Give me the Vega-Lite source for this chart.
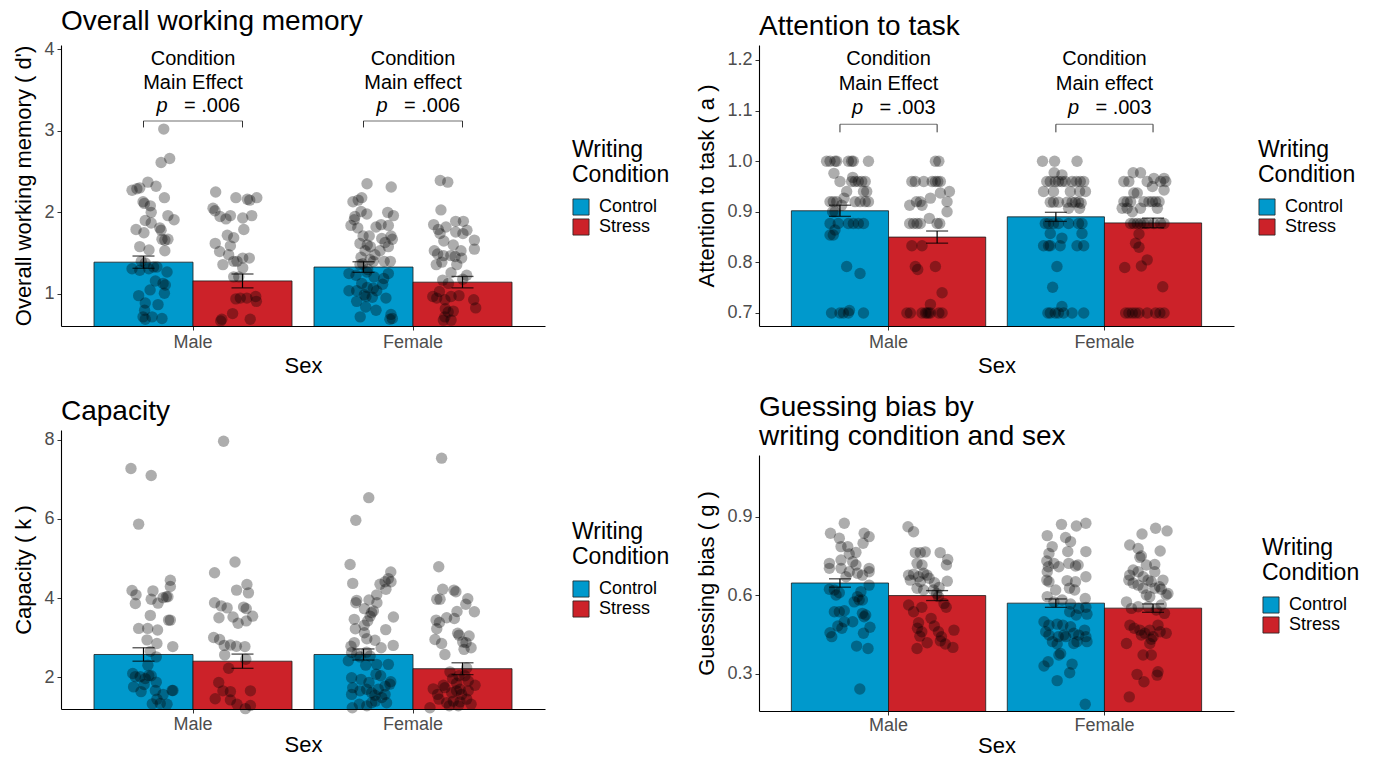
{
"$schema": "https://vega.github.io/schema/vega-lite/v6.json",
"padding": {"left": 12, "top": 8, "right": 5, "bottom": 0},
"config": {
 "font": "Liberation Sans",
 "view": {"stroke": null},
 "axis": {"grid": false, "domainColor": "#000", "domainWidth": 1.1, "tickColor": "#333", "tickSize": 4, "tickWidth": 1, "labelColor": "#4D4D4D", "labelFontSize": 18, "labelFont": "Liberation Sans", "titleFont": "Liberation Sans", "titleFontSize": 22, "titleFontWeight": "normal", "titleColor": "#000", "labelPadding": 3},
 "axisX": {"titlePadding": 4},
 "axisY": {"titlePadding": 8},
 "title": {"fontSize": 28, "fontWeight": "normal", "anchor": "start", "frame": "group", "color": "#000", "font": "Liberation Sans"},
 "legend": {"symbolType": "square", "symbolSize": 260, "symbolStrokeColor": "#222", "symbolStrokeWidth": 0.8, "symbolOpacity": 1, "titleFontSize": 23, "titleFontWeight": "normal", "titleColor": "#000", "titleLineHeight": 25, "labelFontSize": 18, "labelColor": "#000", "rowPadding": 0, "labelOffset": 9, "titlePadding": 11, "titleFont": "Liberation Sans", "labelFont": "Liberation Sans"},
 "text": {"font": "Liberation Sans"}
},
"datasets": {
 "bars1": [
  {"Sex": "Male", "Condition": "Control", "m": 1.39, "lo": 1.315, "hi": 1.465},
  {"Sex": "Male", "Condition": "Stress", "m": 1.16, "lo": 1.075, "hi": 1.245},
  {"Sex": "Female", "Condition": "Control", "m": 1.33, "lo": 1.265, "hi": 1.395},
  {"Sex": "Female", "Condition": "Stress", "m": 1.145, "lo": 1.075, "hi": 1.215}
 ],
 "bars2": [
  {"Sex": "Male", "Condition": "Control", "m": 0.902, "lo": 0.891, "hi": 0.913},
  {"Sex": "Male", "Condition": "Stress", "m": 0.85, "lo": 0.838, "hi": 0.862},
  {"Sex": "Female", "Condition": "Control", "m": 0.89, "lo": 0.881, "hi": 0.899},
  {"Sex": "Female", "Condition": "Stress", "m": 0.878, "lo": 0.8685, "hi": 0.8875}
 ],
 "bars3": [
  {"Sex": "Male", "Condition": "Control", "m": 2.57, "lo": 2.4, "hi": 2.74},
  {"Sex": "Male", "Condition": "Stress", "m": 2.4, "lo": 2.22, "hi": 2.58},
  {"Sex": "Female", "Condition": "Control", "m": 2.57, "lo": 2.43, "hi": 2.71},
  {"Sex": "Female", "Condition": "Stress", "m": 2.21, "lo": 2.06, "hi": 2.36}
 ],
 "bars4": [
  {"Sex": "Male", "Condition": "Control", "m": 0.646, "lo": 0.63, "hi": 0.662},
  {"Sex": "Male", "Condition": "Stress", "m": 0.598, "lo": 0.579, "hi": 0.617},
  {"Sex": "Female", "Condition": "Control", "m": 0.569, "lo": 0.553, "hi": 0.585},
  {"Sex": "Female", "Condition": "Stress", "m": 0.55, "lo": 0.534, "hi": 0.566}
 ],
 "ann1": [
  {"Sex": "Male", "t2": "Main Effect", "pv": "= .006"},
  {"Sex": "Female", "t2": "Main effect", "pv": "= .006"}
 ],
 "ann2": [
  {"Sex": "Male", "t2": "Main Effect", "pv": "= .003"},
  {"Sex": "Female", "t2": "Main effect", "pv": "= .003"}
 ],
 "pts1": [
  {"Sex":"Male","c":"Control","v":3.02,"j":-0.133},{"Sex":"Male","c":"Control","v":2.66,"j":-0.106},{"Sex":"Male","c":"Control","v":2.61,"j":-0.145},{"Sex":"Male","c":"Control","v":2.37,"j":-0.205},{"Sex":"Male","c":"Control","v":2.27,"j":-0.277},{"Sex":"Male","c":"Control","v":2.29,"j":-0.255},{"Sex":"Male","c":"Control","v":2.3,"j":-0.242},{"Sex":"Male","c":"Control","v":2.32,"j":-0.168},{"Sex":"Male","c":"Control","v":2.18,"j":-0.13},{"Sex":"Male","c":"Control","v":2.13,"j":-0.227},{"Sex":"Male","c":"Control","v":2.11,"j":-0.221},{"Sex":"Male","c":"Control","v":2.08,"j":-0.194},{"Sex":"Male","c":"Control","v":2.0,"j":-0.19},{"Sex":"Male","c":"Control","v":1.96,"j":-0.114},{"Sex":"Male","c":"Control","v":1.91,"j":-0.086},{"Sex":"Male","c":"Control","v":1.9,"j":-0.217},{"Sex":"Male","c":"Control","v":1.87,"j":-0.19},{"Sex":"Male","c":"Control","v":1.81,"j":-0.151},{"Sex":"Male","c":"Control","v":1.78,"j":-0.145},{"Sex":"Male","c":"Control","v":1.79,"j":-0.259},{"Sex":"Male","c":"Control","v":1.75,"j":-0.223},{"Sex":"Male","c":"Control","v":1.67,"j":-0.141},{"Sex":"Male","c":"Control","v":1.66,"j":-0.128},{"Sex":"Male","c":"Control","v":1.67,"j":-0.114},{"Sex":"Male","c":"Control","v":1.58,"j":-0.242},{"Sex":"Male","c":"Control","v":1.54,"j":-0.2},{"Sex":"Male","c":"Control","v":1.53,"j":-0.128},{"Sex":"Male","c":"Control","v":1.4,"j":-0.235},{"Sex":"Male","c":"Control","v":1.38,"j":-0.217},{"Sex":"Male","c":"Control","v":1.31,"j":-0.277},{"Sex":"Male","c":"Control","v":1.29,"j":-0.242},{"Sex":"Male","c":"Control","v":1.31,"j":-0.201},{"Sex":"Male","c":"Control","v":1.33,"j":-0.179},{"Sex":"Male","c":"Control","v":1.33,"j":-0.164},{"Sex":"Male","c":"Control","v":1.27,"j":-0.118},{"Sex":"Male","c":"Control","v":1.16,"j":-0.171},{"Sex":"Male","c":"Control","v":1.11,"j":-0.126},{"Sex":"Male","c":"Control","v":1.13,"j":-0.136},{"Sex":"Male","c":"Control","v":1.05,"j":-0.195},{"Sex":"Male","c":"Control","v":1.01,"j":-0.13},{"Sex":"Male","c":"Control","v":0.98,"j":-0.247},{"Sex":"Male","c":"Control","v":0.87,"j":-0.159},{"Sex":"Male","c":"Control","v":0.89,"j":-0.217},{"Sex":"Male","c":"Control","v":0.8,"j":-0.22},{"Sex":"Male","c":"Control","v":0.72,"j":-0.227},{"Sex":"Male","c":"Control","v":0.69,"j":-0.217},{"Sex":"Male","c":"Control","v":0.72,"j":-0.186},{"Sex":"Male","c":"Control","v":0.7,"j":-0.141},
  {"Sex":"Male","c":"Stress","v":2.25,"j":0.103},{"Sex":"Male","c":"Stress","v":2.18,"j":0.195},{"Sex":"Male","c":"Stress","v":2.16,"j":0.247},{"Sex":"Male","c":"Stress","v":2.15,"j":0.258},{"Sex":"Male","c":"Stress","v":2.18,"j":0.29},{"Sex":"Male","c":"Stress","v":2.05,"j":0.091},{"Sex":"Male","c":"Stress","v":2.02,"j":0.1},{"Sex":"Male","c":"Stress","v":1.95,"j":0.123},{"Sex":"Male","c":"Stress","v":1.92,"j":0.15},{"Sex":"Male","c":"Stress","v":1.96,"j":0.17},{"Sex":"Male","c":"Stress","v":1.93,"j":0.226},{"Sex":"Male","c":"Stress","v":1.96,"j":0.267},{"Sex":"Male","c":"Stress","v":1.79,"j":0.231},{"Sex":"Male","c":"Stress","v":1.72,"j":0.156},{"Sex":"Male","c":"Stress","v":1.69,"j":0.185},{"Sex":"Male","c":"Stress","v":1.62,"j":0.101},{"Sex":"Male","c":"Stress","v":1.59,"j":0.17},{"Sex":"Male","c":"Stress","v":1.52,"j":0.121},{"Sex":"Male","c":"Stress","v":1.48,"j":0.162},{"Sex":"Male","c":"Stress","v":1.4,"j":0.185},{"Sex":"Male","c":"Stress","v":1.36,"j":0.136},{"Sex":"Male","c":"Stress","v":1.44,"j":0.226},{"Sex":"Male","c":"Stress","v":1.44,"j":0.256},{"Sex":"Male","c":"Stress","v":1.4,"j":0.2},{"Sex":"Male","c":"Stress","v":1.32,"j":0.226},{"Sex":"Male","c":"Stress","v":1.21,"j":0.185},{"Sex":"Male","c":"Stress","v":1.21,"j":0.208},{"Sex":"Male","c":"Stress","v":0.95,"j":0.215},{"Sex":"Male","c":"Stress","v":0.95,"j":0.245},{"Sex":"Male","c":"Stress","v":0.97,"j":0.285},{"Sex":"Male","c":"Stress","v":0.91,"j":0.288},{"Sex":"Male","c":"Stress","v":0.94,"j":0.195},{"Sex":"Male","c":"Stress","v":0.76,"j":0.18},{"Sex":"Male","c":"Stress","v":0.69,"j":0.26},{"Sex":"Male","c":"Stress","v":0.67,"j":0.126},{"Sex":"Male","c":"Stress","v":0.69,"j":0.131},
  {"Sex":"Female","c":"Control","v":2.35,"j":-0.209},{"Sex":"Female","c":"Control","v":2.31,"j":-0.099},{"Sex":"Female","c":"Control","v":2.13,"j":-0.273},{"Sex":"Female","c":"Control","v":2.18,"j":-0.233},{"Sex":"Female","c":"Control","v":2.15,"j":-0.249},{"Sex":"Female","c":"Control","v":1.95,"j":-0.264},{"Sex":"Female","c":"Control","v":1.91,"j":-0.267},{"Sex":"Female","c":"Control","v":2.01,"j":-0.236},{"Sex":"Female","c":"Control","v":1.98,"j":-0.21},{"Sex":"Female","c":"Control","v":2.0,"j":-0.115},{"Sex":"Female","c":"Control","v":1.96,"j":-0.089},{"Sex":"Female","c":"Control","v":1.84,"j":-0.282},{"Sex":"Female","c":"Control","v":1.81,"j":-0.251},{"Sex":"Female","c":"Control","v":1.82,"j":-0.168},{"Sex":"Female","c":"Control","v":1.85,"j":-0.145},{"Sex":"Female","c":"Control","v":1.84,"j":-0.112},{"Sex":"Female","c":"Control","v":1.71,"j":-0.227},{"Sex":"Female","c":"Control","v":1.71,"j":-0.199},{"Sex":"Female","c":"Control","v":1.68,"j":-0.142},{"Sex":"Female","c":"Control","v":1.71,"j":-0.1},{"Sex":"Female","c":"Control","v":1.67,"j":-0.094},{"Sex":"Female","c":"Control","v":1.63,"j":-0.127},{"Sex":"Female","c":"Control","v":1.62,"j":-0.241},{"Sex":"Female","c":"Control","v":1.6,"j":-0.208},{"Sex":"Female","c":"Control","v":1.58,"j":-0.194},{"Sex":"Female","c":"Control","v":1.53,"j":-0.218},{"Sex":"Female","c":"Control","v":1.53,"j":-0.15},{"Sex":"Female","c":"Control","v":1.58,"j":-0.112},{"Sex":"Female","c":"Control","v":1.48,"j":-0.173},{"Sex":"Female","c":"Control","v":1.4,"j":-0.131},{"Sex":"Female","c":"Control","v":1.4,"j":-0.103},{"Sex":"Female","c":"Control","v":1.45,"j":-0.236},{"Sex":"Female","c":"Control","v":1.42,"j":-0.195},{"Sex":"Female","c":"Control","v":1.4,"j":-0.18},{"Sex":"Female","c":"Control","v":1.36,"j":-0.241},{"Sex":"Female","c":"Control","v":1.37,"j":-0.229},{"Sex":"Female","c":"Control","v":1.3,"j":-0.206},{"Sex":"Female","c":"Control","v":1.25,"j":-0.291},{"Sex":"Female","c":"Control","v":1.23,"j":-0.259},{"Sex":"Female","c":"Control","v":1.27,"j":-0.21},{"Sex":"Female","c":"Control","v":1.25,"j":-0.112},{"Sex":"Female","c":"Control","v":1.21,"j":-0.177},{"Sex":"Female","c":"Control","v":1.19,"j":-0.133},{"Sex":"Female","c":"Control","v":1.13,"j":-0.233},{"Sex":"Female","c":"Control","v":1.12,"j":-0.138},{"Sex":"Female","c":"Control","v":1.07,"j":-0.18},{"Sex":"Female","c":"Control","v":1.08,"j":-0.208},{"Sex":"Female","c":"Control","v":1.04,"j":-0.256},{"Sex":"Female","c":"Control","v":1.04,"j":-0.291},{"Sex":"Female","c":"Control","v":1.04,"j":-0.165},{"Sex":"Female","c":"Control","v":0.99,"j":-0.221},{"Sex":"Female","c":"Control","v":0.97,"j":-0.214},{"Sex":"Female","c":"Control","v":0.96,"j":-0.185},{"Sex":"Female","c":"Control","v":0.95,"j":-0.123},{"Sex":"Female","c":"Control","v":0.91,"j":-0.256},{"Sex":"Female","c":"Control","v":0.84,"j":-0.215},{"Sex":"Female","c":"Control","v":0.8,"j":-0.168},{"Sex":"Female","c":"Control","v":0.72,"j":-0.24},{"Sex":"Female","c":"Control","v":0.75,"j":-0.1},{"Sex":"Female","c":"Control","v":0.7,"j":-0.094},{"Sex":"Female","c":"Control","v":0.69,"j":-0.105},
  {"Sex":"Female","c":"Stress","v":2.39,"j":0.124},{"Sex":"Female","c":"Stress","v":2.37,"j":0.158},{"Sex":"Female","c":"Stress","v":2.03,"j":0.127},{"Sex":"Female","c":"Stress","v":1.85,"j":0.094},{"Sex":"Female","c":"Stress","v":1.89,"j":0.194},{"Sex":"Female","c":"Stress","v":1.89,"j":0.229},{"Sex":"Female","c":"Stress","v":1.79,"j":0.115},{"Sex":"Female","c":"Stress","v":1.74,"j":0.123},{"Sex":"Female","c":"Stress","v":1.82,"j":0.15},{"Sex":"Female","c":"Stress","v":1.76,"j":0.194},{"Sex":"Female","c":"Stress","v":1.74,"j":0.227},{"Sex":"Female","c":"Stress","v":1.78,"j":0.245},{"Sex":"Female","c":"Stress","v":1.66,"j":0.279},{"Sex":"Female","c":"Stress","v":1.55,"j":0.279},{"Sex":"Female","c":"Stress","v":1.65,"j":0.14},{"Sex":"Female","c":"Stress","v":1.6,"j":0.183},{"Sex":"Female","c":"Stress","v":1.53,"j":0.218},{"Sex":"Female","c":"Stress","v":1.53,"j":0.097},{"Sex":"Female","c":"Stress","v":1.49,"j":0.112},{"Sex":"Female","c":"Stress","v":1.47,"j":0.138},{"Sex":"Female","c":"Stress","v":1.47,"j":0.172},{"Sex":"Female","c":"Stress","v":1.46,"j":0.191},{"Sex":"Female","c":"Stress","v":1.44,"j":0.221},{"Sex":"Female","c":"Stress","v":1.36,"j":0.106},{"Sex":"Female","c":"Stress","v":1.39,"j":0.131},{"Sex":"Female","c":"Stress","v":1.36,"j":0.199},{"Sex":"Female","c":"Stress","v":1.26,"j":0.173},{"Sex":"Female","c":"Stress","v":1.23,"j":0.244},{"Sex":"Female","c":"Stress","v":1.18,"j":0.226},{"Sex":"Female","c":"Stress","v":1.17,"j":0.135},{"Sex":"Female","c":"Stress","v":1.13,"j":0.161},{"Sex":"Female","c":"Stress","v":0.97,"j":0.09},{"Sex":"Female","c":"Stress","v":0.95,"j":0.108},{"Sex":"Female","c":"Stress","v":1.03,"j":0.12},{"Sex":"Female","c":"Stress","v":0.93,"j":0.145},{"Sex":"Female","c":"Stress","v":0.97,"j":0.173},{"Sex":"Female","c":"Stress","v":0.98,"j":0.209},{"Sex":"Female","c":"Stress","v":0.93,"j":0.276},{"Sex":"Female","c":"Stress","v":0.83,"j":0.285},{"Sex":"Female","c":"Stress","v":0.82,"j":0.147},{"Sex":"Female","c":"Stress","v":0.78,"j":0.16},{"Sex":"Female","c":"Stress","v":0.79,"j":0.183},{"Sex":"Female","c":"Stress","v":0.72,"j":0.145},{"Sex":"Female","c":"Stress","v":0.68,"j":0.173},{"Sex":"Female","c":"Stress","v":0.68,"j":0.138}
 ],
 "pts2": [
  {"Sex":"Male","c":"Control","v":1.0,"j":-0.287},{"Sex":"Male","c":"Control","v":1.0,"j":-0.271},{"Sex":"Male","c":"Control","v":1.0,"j":-0.248},{"Sex":"Male","c":"Control","v":1.0,"j":-0.24},{"Sex":"Male","c":"Control","v":1.0,"j":-0.186},{"Sex":"Male","c":"Control","v":1.0,"j":-0.171},{"Sex":"Male","c":"Control","v":1.0,"j":-0.163},{"Sex":"Male","c":"Control","v":1.0,"j":-0.093},{"Sex":"Male","c":"Control","v":0.976,"j":-0.253},{"Sex":"Male","c":"Control","v":0.968,"j":-0.166},{"Sex":"Male","c":"Control","v":0.96,"j":-0.225},{"Sex":"Male","c":"Control","v":0.96,"j":-0.171},{"Sex":"Male","c":"Control","v":0.96,"j":-0.155},{"Sex":"Male","c":"Control","v":0.96,"j":-0.14},{"Sex":"Male","c":"Control","v":0.96,"j":-0.124},{"Sex":"Male","c":"Control","v":0.96,"j":-0.108},{"Sex":"Male","c":"Control","v":0.94,"j":-0.194},{"Sex":"Male","c":"Control","v":0.94,"j":-0.116},{"Sex":"Male","c":"Control","v":0.94,"j":-0.101},{"Sex":"Male","c":"Control","v":0.927,"j":-0.206},{"Sex":"Male","c":"Control","v":0.92,"j":-0.271},{"Sex":"Male","c":"Control","v":0.92,"j":-0.256},{"Sex":"Male","c":"Control","v":0.92,"j":-0.24},{"Sex":"Male","c":"Control","v":0.92,"j":-0.155},{"Sex":"Male","c":"Control","v":0.92,"j":-0.132},{"Sex":"Male","c":"Control","v":0.92,"j":-0.108},{"Sex":"Male","c":"Control","v":0.92,"j":-0.093},{"Sex":"Male","c":"Control","v":0.913,"j":-0.217},{"Sex":"Male","c":"Control","v":0.9,"j":-0.259},{"Sex":"Male","c":"Control","v":0.9,"j":-0.248},{"Sex":"Male","c":"Control","v":0.877,"j":-0.271},{"Sex":"Male","c":"Control","v":0.877,"j":-0.233},{"Sex":"Male","c":"Control","v":0.877,"j":-0.186},{"Sex":"Male","c":"Control","v":0.877,"j":-0.163},{"Sex":"Male","c":"Control","v":0.877,"j":-0.14},{"Sex":"Male","c":"Control","v":0.877,"j":-0.116},{"Sex":"Male","c":"Control","v":0.864,"j":-0.248},{"Sex":"Male","c":"Control","v":0.854,"j":-0.271},{"Sex":"Male","c":"Control","v":0.854,"j":-0.256},{"Sex":"Male","c":"Control","v":0.792,"j":-0.194},{"Sex":"Male","c":"Control","v":0.778,"j":-0.132},{"Sex":"Male","c":"Control","v":0.7,"j":-0.264},{"Sex":"Male","c":"Control","v":0.7,"j":-0.225},{"Sex":"Male","c":"Control","v":0.7,"j":-0.209},{"Sex":"Male","c":"Control","v":0.7,"j":-0.186},{"Sex":"Male","c":"Control","v":0.7,"j":-0.116},{"Sex":"Male","c":"Control","v":0.705,"j":-0.181},
  {"Sex":"Male","c":"Stress","v":1.0,"j":0.217},{"Sex":"Male","c":"Stress","v":1.0,"j":0.233},{"Sex":"Male","c":"Stress","v":0.96,"j":0.108},{"Sex":"Male","c":"Stress","v":0.96,"j":0.124},{"Sex":"Male","c":"Stress","v":0.96,"j":0.163},{"Sex":"Male","c":"Stress","v":0.96,"j":0.202},{"Sex":"Male","c":"Stress","v":0.96,"j":0.217},{"Sex":"Male","c":"Stress","v":0.96,"j":0.228},{"Sex":"Male","c":"Stress","v":0.96,"j":0.24},{"Sex":"Male","c":"Stress","v":0.94,"j":0.282},{"Sex":"Male","c":"Stress","v":0.937,"j":0.24},{"Sex":"Male","c":"Stress","v":0.927,"j":0.194},{"Sex":"Male","c":"Stress","v":0.92,"j":0.129},{"Sex":"Male","c":"Stress","v":0.92,"j":0.147},{"Sex":"Male","c":"Stress","v":0.92,"j":0.271},{"Sex":"Male","c":"Stress","v":0.913,"j":0.098},{"Sex":"Male","c":"Stress","v":0.913,"j":0.155},{"Sex":"Male","c":"Stress","v":0.9,"j":0.271},{"Sex":"Male","c":"Stress","v":0.887,"j":0.189},{"Sex":"Male","c":"Stress","v":0.877,"j":0.098},{"Sex":"Male","c":"Stress","v":0.877,"j":0.116},{"Sex":"Male","c":"Stress","v":0.877,"j":0.132},{"Sex":"Male","c":"Stress","v":0.877,"j":0.147},{"Sex":"Male","c":"Stress","v":0.877,"j":0.225},{"Sex":"Male","c":"Stress","v":0.877,"j":0.237},{"Sex":"Male","c":"Stress","v":0.833,"j":0.108},{"Sex":"Male","c":"Stress","v":0.833,"j":0.155},{"Sex":"Male","c":"Stress","v":0.792,"j":0.124},{"Sex":"Male","c":"Stress","v":0.792,"j":0.217},{"Sex":"Male","c":"Stress","v":0.786,"j":0.135},{"Sex":"Male","c":"Stress","v":0.74,"j":0.248},{"Sex":"Male","c":"Stress","v":0.717,"j":0.194},{"Sex":"Male","c":"Stress","v":0.7,"j":0.085},{"Sex":"Male","c":"Stress","v":0.7,"j":0.101},{"Sex":"Male","c":"Stress","v":0.7,"j":0.155},{"Sex":"Male","c":"Stress","v":0.7,"j":0.171},{"Sex":"Male","c":"Stress","v":0.7,"j":0.178},{"Sex":"Male","c":"Stress","v":0.7,"j":0.186},{"Sex":"Male","c":"Stress","v":0.7,"j":0.194},{"Sex":"Male","c":"Stress","v":0.7,"j":0.233},{"Sex":"Male","c":"Stress","v":0.7,"j":0.248},
  {"Sex":"Female","c":"Control","v":1.0,"j":-0.287},{"Sex":"Female","c":"Control","v":1.0,"j":-0.231},{"Sex":"Female","c":"Control","v":1.0,"j":-0.127},{"Sex":"Female","c":"Control","v":0.977,"j":-0.233},{"Sex":"Female","c":"Control","v":0.973,"j":-0.197},{"Sex":"Female","c":"Control","v":0.96,"j":-0.267},{"Sex":"Female","c":"Control","v":0.96,"j":-0.251},{"Sex":"Female","c":"Control","v":0.96,"j":-0.228},{"Sex":"Female","c":"Control","v":0.96,"j":-0.213},{"Sex":"Female","c":"Control","v":0.96,"j":-0.197},{"Sex":"Female","c":"Control","v":0.96,"j":-0.181},{"Sex":"Female","c":"Control","v":0.96,"j":-0.15},{"Sex":"Female","c":"Control","v":0.96,"j":-0.13},{"Sex":"Female","c":"Control","v":0.96,"j":-0.112},{"Sex":"Female","c":"Control","v":0.96,"j":-0.096},{"Sex":"Female","c":"Control","v":0.94,"j":-0.282},{"Sex":"Female","c":"Control","v":0.94,"j":-0.236},{"Sex":"Female","c":"Control","v":0.94,"j":-0.158},{"Sex":"Female","c":"Control","v":0.94,"j":-0.115},{"Sex":"Female","c":"Control","v":0.94,"j":-0.088},{"Sex":"Female","c":"Control","v":0.919,"j":-0.251},{"Sex":"Female","c":"Control","v":0.919,"j":-0.236},{"Sex":"Female","c":"Control","v":0.919,"j":-0.213},{"Sex":"Female","c":"Control","v":0.919,"j":-0.173},{"Sex":"Female","c":"Control","v":0.919,"j":-0.15},{"Sex":"Female","c":"Control","v":0.919,"j":-0.135},{"Sex":"Female","c":"Control","v":0.919,"j":-0.12},{"Sex":"Female","c":"Control","v":0.917,"j":-0.108},{"Sex":"Female","c":"Control","v":0.907,"j":-0.166},{"Sex":"Female","c":"Control","v":0.907,"j":-0.115},{"Sex":"Female","c":"Control","v":0.877,"j":-0.274},{"Sex":"Female","c":"Control","v":0.877,"j":-0.259},{"Sex":"Female","c":"Control","v":0.877,"j":-0.236},{"Sex":"Female","c":"Control","v":0.877,"j":-0.213},{"Sex":"Female","c":"Control","v":0.877,"j":-0.166},{"Sex":"Female","c":"Control","v":0.877,"j":-0.12},{"Sex":"Female","c":"Control","v":0.877,"j":-0.104},{"Sex":"Female","c":"Control","v":0.857,"j":-0.251},{"Sex":"Female","c":"Control","v":0.857,"j":-0.104},{"Sex":"Female","c":"Control","v":0.848,"j":-0.197},{"Sex":"Female","c":"Control","v":0.833,"j":-0.282},{"Sex":"Female","c":"Control","v":0.833,"j":-0.259},{"Sex":"Female","c":"Control","v":0.833,"j":-0.251},{"Sex":"Female","c":"Control","v":0.833,"j":-0.205},{"Sex":"Female","c":"Control","v":0.833,"j":-0.127},{"Sex":"Female","c":"Control","v":0.833,"j":-0.096},{"Sex":"Female","c":"Control","v":0.792,"j":-0.22},{"Sex":"Female","c":"Control","v":0.751,"j":-0.24},{"Sex":"Female","c":"Control","v":0.713,"j":-0.197},{"Sex":"Female","c":"Control","v":0.7,"j":-0.262},{"Sex":"Female","c":"Control","v":0.7,"j":-0.251},{"Sex":"Female","c":"Control","v":0.7,"j":-0.228},{"Sex":"Female","c":"Control","v":0.7,"j":-0.213},{"Sex":"Female","c":"Control","v":0.7,"j":-0.189},{"Sex":"Female","c":"Control","v":0.7,"j":-0.15},{"Sex":"Female","c":"Control","v":0.7,"j":-0.096},
  {"Sex":"Female","c":"Stress","v":0.977,"j":0.133},{"Sex":"Female","c":"Stress","v":0.977,"j":0.167},{"Sex":"Female","c":"Stress","v":0.966,"j":0.229},{"Sex":"Female","c":"Stress","v":0.966,"j":0.276},{"Sex":"Female","c":"Stress","v":0.96,"j":0.09},{"Sex":"Female","c":"Stress","v":0.96,"j":0.113},{"Sex":"Female","c":"Stress","v":0.96,"j":0.198},{"Sex":"Female","c":"Stress","v":0.96,"j":0.26},{"Sex":"Female","c":"Stress","v":0.96,"j":0.284},{"Sex":"Female","c":"Stress","v":0.95,"j":0.222},{"Sex":"Female","c":"Stress","v":0.943,"j":0.276},{"Sex":"Female","c":"Stress","v":0.937,"j":0.136},{"Sex":"Female","c":"Stress","v":0.937,"j":0.152},{"Sex":"Female","c":"Stress","v":0.92,"j":0.09},{"Sex":"Female","c":"Stress","v":0.92,"j":0.105},{"Sex":"Female","c":"Stress","v":0.92,"j":0.121},{"Sex":"Female","c":"Stress","v":0.92,"j":0.183},{"Sex":"Female","c":"Stress","v":0.92,"j":0.206},{"Sex":"Female","c":"Stress","v":0.92,"j":0.222},{"Sex":"Female","c":"Stress","v":0.92,"j":0.237},{"Sex":"Female","c":"Stress","v":0.92,"j":0.253},{"Sex":"Female","c":"Stress","v":0.907,"j":0.082},{"Sex":"Female","c":"Stress","v":0.907,"j":0.105},{"Sex":"Female","c":"Stress","v":0.907,"j":0.167},{"Sex":"Female","c":"Stress","v":0.907,"j":0.245},{"Sex":"Female","c":"Stress","v":0.9,"j":0.129},{"Sex":"Female","c":"Stress","v":0.877,"j":0.121},{"Sex":"Female","c":"Stress","v":0.877,"j":0.136},{"Sex":"Female","c":"Stress","v":0.877,"j":0.152},{"Sex":"Female","c":"Stress","v":0.877,"j":0.167},{"Sex":"Female","c":"Stress","v":0.877,"j":0.183},{"Sex":"Female","c":"Stress","v":0.877,"j":0.198},{"Sex":"Female","c":"Stress","v":0.877,"j":0.229},{"Sex":"Female","c":"Stress","v":0.877,"j":0.26},{"Sex":"Female","c":"Stress","v":0.877,"j":0.276},{"Sex":"Female","c":"Stress","v":0.856,"j":0.16},{"Sex":"Female","c":"Stress","v":0.838,"j":0.144},{"Sex":"Female","c":"Stress","v":0.83,"j":0.16},{"Sex":"Female","c":"Stress","v":0.805,"j":0.198},{"Sex":"Female","c":"Stress","v":0.793,"j":0.171},{"Sex":"Female","c":"Stress","v":0.79,"j":0.094},{"Sex":"Female","c":"Stress","v":0.752,"j":0.27},{"Sex":"Female","c":"Stress","v":0.7,"j":0.098},{"Sex":"Female","c":"Stress","v":0.7,"j":0.113},{"Sex":"Female","c":"Stress","v":0.7,"j":0.129},{"Sex":"Female","c":"Stress","v":0.7,"j":0.144},{"Sex":"Female","c":"Stress","v":0.7,"j":0.16},{"Sex":"Female","c":"Stress","v":0.7,"j":0.198},{"Sex":"Female","c":"Stress","v":0.7,"j":0.237},{"Sex":"Female","c":"Stress","v":0.7,"j":0.257},{"Sex":"Female","c":"Stress","v":0.7,"j":0.276}
 ],
 "pts3": [
  {"Sex":"Male","c":"Control","v":7.28,"j":-0.282},{"Sex":"Male","c":"Control","v":7.1,"j":-0.19},{"Sex":"Male","c":"Control","v":5.87,"j":-0.247},{"Sex":"Male","c":"Control","v":4.45,"j":-0.103},{"Sex":"Male","c":"Control","v":4.29,"j":-0.103},{"Sex":"Male","c":"Control","v":4.19,"j":-0.277},{"Sex":"Male","c":"Control","v":4.08,"j":-0.259},{"Sex":"Male","c":"Control","v":3.86,"j":-0.262},{"Sex":"Male","c":"Control","v":4.18,"j":-0.182},{"Sex":"Male","c":"Control","v":3.97,"j":-0.19},{"Sex":"Male","c":"Control","v":3.87,"j":-0.159},{"Sex":"Male","c":"Control","v":4.01,"j":-0.136},{"Sex":"Male","c":"Control","v":4.03,"j":-0.121},{"Sex":"Male","c":"Control","v":4.03,"j":-0.114},{"Sex":"Male","c":"Control","v":3.56,"j":-0.194},{"Sex":"Male","c":"Control","v":3.44,"j":-0.111},{"Sex":"Male","c":"Control","v":3.44,"j":-0.103},{"Sex":"Male","c":"Control","v":3.23,"j":-0.247},{"Sex":"Male","c":"Control","v":3.23,"j":-0.206},{"Sex":"Male","c":"Control","v":3.19,"j":-0.161},{"Sex":"Male","c":"Control","v":2.94,"j":-0.209},{"Sex":"Male","c":"Control","v":2.85,"j":-0.164},{"Sex":"Male","c":"Control","v":2.77,"j":-0.092},{"Sex":"Male","c":"Control","v":2.65,"j":-0.194},{"Sex":"Male","c":"Control","v":2.51,"j":-0.167},{"Sex":"Male","c":"Control","v":2.3,"j":-0.205},{"Sex":"Male","c":"Control","v":2.09,"j":-0.274},{"Sex":"Male","c":"Control","v":2.01,"j":-0.262},{"Sex":"Male","c":"Control","v":2.01,"j":-0.24},{"Sex":"Male","c":"Control","v":1.96,"j":-0.217},{"Sex":"Male","c":"Control","v":2.04,"j":-0.201},{"Sex":"Male","c":"Control","v":2.03,"j":-0.19},{"Sex":"Male","c":"Control","v":1.87,"j":-0.167},{"Sex":"Male","c":"Control","v":1.75,"j":-0.27},{"Sex":"Male","c":"Control","v":1.63,"j":-0.236},{"Sex":"Male","c":"Control","v":1.81,"j":-0.222},{"Sex":"Male","c":"Control","v":1.66,"j":-0.171},{"Sex":"Male","c":"Control","v":1.56,"j":-0.136},{"Sex":"Male","c":"Control","v":1.66,"j":-0.095},{"Sex":"Male","c":"Control","v":1.66,"j":-0.091},{"Sex":"Male","c":"Control","v":1.32,"j":-0.185},{"Sex":"Male","c":"Control","v":1.44,"j":-0.164},{"Sex":"Male","c":"Control","v":1.31,"j":-0.118},{"Sex":"Male","c":"Control","v":1.33,"j":-0.149},
  {"Sex":"Male","c":"Stress","v":7.97,"j":0.139},{"Sex":"Male","c":"Stress","v":4.91,"j":0.191},{"Sex":"Male","c":"Stress","v":4.64,"j":0.098},{"Sex":"Male","c":"Stress","v":4.34,"j":0.245},{"Sex":"Male","c":"Stress","v":4.13,"j":0.252},{"Sex":"Male","c":"Stress","v":4.2,"j":0.198},{"Sex":"Male","c":"Stress","v":3.88,"j":0.098},{"Sex":"Male","c":"Stress","v":3.8,"j":0.128},{"Sex":"Male","c":"Stress","v":3.75,"j":0.155},{"Sex":"Male","c":"Stress","v":3.77,"j":0.23},{"Sex":"Male","c":"Stress","v":3.73,"j":0.242},{"Sex":"Male","c":"Stress","v":3.5,"j":0.118},{"Sex":"Male","c":"Stress","v":3.52,"j":0.182},{"Sex":"Male","c":"Stress","v":3.36,"j":0.205},{"Sex":"Male","c":"Stress","v":3.42,"j":0.242},{"Sex":"Male","c":"Stress","v":3.54,"j":0.271},{"Sex":"Male","c":"Stress","v":3.0,"j":0.094},{"Sex":"Male","c":"Stress","v":2.95,"j":0.121},{"Sex":"Male","c":"Stress","v":2.8,"j":0.142},{"Sex":"Male","c":"Stress","v":2.81,"j":0.17},{"Sex":"Male","c":"Stress","v":2.78,"j":0.197},{"Sex":"Male","c":"Stress","v":2.77,"j":0.236},{"Sex":"Male","c":"Stress","v":2.56,"j":0.144},{"Sex":"Male","c":"Stress","v":2.45,"j":0.24},{"Sex":"Male","c":"Stress","v":2.22,"j":0.162},{"Sex":"Male","c":"Stress","v":1.86,"j":0.117},{"Sex":"Male","c":"Stress","v":1.65,"j":0.136},{"Sex":"Male","c":"Stress","v":1.63,"j":0.17},{"Sex":"Male","c":"Stress","v":1.65,"j":0.261},{"Sex":"Male","c":"Stress","v":1.45,"j":0.101},{"Sex":"Male","c":"Stress","v":1.42,"j":0.17},{"Sex":"Male","c":"Stress","v":1.31,"j":0.2},{"Sex":"Male","c":"Stress","v":1.28,"j":0.261},{"Sex":"Male","c":"Stress","v":1.2,"j":0.238},
  {"Sex":"Female","c":"Control","v":6.54,"j":-0.201},{"Sex":"Female","c":"Control","v":5.97,"j":-0.26},{"Sex":"Female","c":"Control","v":4.85,"j":-0.286},{"Sex":"Female","c":"Control","v":4.37,"j":-0.274},{"Sex":"Female","c":"Control","v":4.66,"j":-0.101},{"Sex":"Female","c":"Control","v":4.49,"j":-0.112},{"Sex":"Female","c":"Control","v":4.41,"j":-0.127},{"Sex":"Female","c":"Control","v":4.41,"j":-0.1},{"Sex":"Female","c":"Control","v":4.22,"j":-0.123},{"Sex":"Female","c":"Control","v":4.35,"j":-0.15},{"Sex":"Female","c":"Control","v":3.94,"j":-0.256},{"Sex":"Female","c":"Control","v":3.88,"j":-0.26},{"Sex":"Female","c":"Control","v":3.95,"j":-0.2},{"Sex":"Female","c":"Control","v":4.08,"j":-0.165},{"Sex":"Female","c":"Control","v":3.88,"j":-0.164},{"Sex":"Female","c":"Control","v":3.73,"j":-0.221},{"Sex":"Female","c":"Control","v":3.63,"j":-0.188},{"Sex":"Female","c":"Control","v":3.67,"j":-0.18},{"Sex":"Female","c":"Control","v":3.52,"j":-0.089},{"Sex":"Female","c":"Control","v":3.46,"j":-0.267},{"Sex":"Female","c":"Control","v":3.42,"j":-0.206},{"Sex":"Female","c":"Control","v":3.31,"j":-0.222},{"Sex":"Female","c":"Control","v":3.22,"j":-0.262},{"Sex":"Female","c":"Control","v":3.54,"j":-0.195},{"Sex":"Female","c":"Control","v":3.12,"j":-0.221},{"Sex":"Female","c":"Control","v":2.97,"j":-0.21},{"Sex":"Female","c":"Control","v":3.2,"j":-0.124},{"Sex":"Female","c":"Control","v":2.87,"j":-0.267},{"Sex":"Female","c":"Control","v":2.93,"j":-0.173},{"Sex":"Female","c":"Control","v":2.74,"j":-0.145},{"Sex":"Female","c":"Control","v":2.8,"j":-0.09},{"Sex":"Female","c":"Control","v":2.78,"j":-0.282},{"Sex":"Female","c":"Control","v":2.62,"j":-0.279},{"Sex":"Female","c":"Control","v":2.57,"j":-0.256},{"Sex":"Female","c":"Control","v":2.63,"j":-0.211},{"Sex":"Female","c":"Control","v":2.51,"j":-0.241},{"Sex":"Female","c":"Control","v":2.53,"j":-0.195},{"Sex":"Female","c":"Control","v":2.41,"j":-0.294},{"Sex":"Female","c":"Control","v":2.3,"j":-0.215},{"Sex":"Female","c":"Control","v":2.32,"j":-0.165},{"Sex":"Female","c":"Control","v":2.32,"j":-0.112},{"Sex":"Female","c":"Control","v":1.98,"j":-0.279},{"Sex":"Female","c":"Control","v":1.94,"j":-0.236},{"Sex":"Female","c":"Control","v":1.86,"j":-0.2},{"Sex":"Female","c":"Control","v":2.07,"j":-0.168},{"Sex":"Female","c":"Control","v":2.03,"j":-0.147},{"Sex":"Female","c":"Control","v":1.88,"j":-0.101},{"Sex":"Female","c":"Control","v":1.82,"j":-0.105},{"Sex":"Female","c":"Control","v":1.73,"j":-0.274},{"Sex":"Female","c":"Control","v":1.65,"j":-0.241},{"Sex":"Female","c":"Control","v":1.69,"j":-0.211},{"Sex":"Female","c":"Control","v":1.6,"j":-0.188},{"Sex":"Female","c":"Control","v":1.69,"j":-0.158},{"Sex":"Female","c":"Control","v":1.77,"j":-0.127},{"Sex":"Female","c":"Control","v":1.56,"j":-0.127},{"Sex":"Female","c":"Control","v":1.56,"j":-0.279},{"Sex":"Female","c":"Control","v":1.54,"j":-0.173},{"Sex":"Female","c":"Control","v":1.48,"j":-0.142},{"Sex":"Female","c":"Control","v":1.39,"j":-0.17},{"Sex":"Female","c":"Control","v":1.35,"j":-0.188},{"Sex":"Female","c":"Control","v":1.35,"j":-0.12},{"Sex":"Female","c":"Control","v":1.31,"j":-0.244},{"Sex":"Female","c":"Control","v":1.27,"j":-0.21},{"Sex":"Female","c":"Control","v":1.22,"j":-0.276},
  {"Sex":"Female","c":"Stress","v":7.54,"j":0.13},{"Sex":"Female","c":"Stress","v":4.79,"j":0.117},{"Sex":"Female","c":"Stress","v":4.22,"j":0.135},{"Sex":"Female","c":"Stress","v":4.2,"j":0.186},{"Sex":"Female","c":"Stress","v":4.16,"j":0.195},{"Sex":"Female","c":"Stress","v":3.97,"j":0.108},{"Sex":"Female","c":"Stress","v":3.97,"j":0.123},{"Sex":"Female","c":"Stress","v":3.98,"j":0.249},{"Sex":"Female","c":"Stress","v":3.84,"j":0.24},{"Sex":"Female","c":"Stress","v":3.65,"j":0.279},{"Sex":"Female","c":"Stress","v":3.66,"j":0.2},{"Sex":"Female","c":"Stress","v":3.5,"j":0.153},{"Sex":"Female","c":"Stress","v":3.48,"j":0.188},{"Sex":"Female","c":"Stress","v":3.44,"j":0.105},{"Sex":"Female","c":"Stress","v":3.38,"j":0.12},{"Sex":"Female","c":"Stress","v":3.22,"j":0.108},{"Sex":"Female","c":"Stress","v":3.11,"j":0.203},{"Sex":"Female","c":"Stress","v":3.06,"j":0.209},{"Sex":"Female","c":"Stress","v":3.04,"j":0.255},{"Sex":"Female","c":"Stress","v":2.95,"j":0.1},{"Sex":"Female","c":"Stress","v":2.85,"j":0.13},{"Sex":"Female","c":"Stress","v":2.89,"j":0.226},{"Sex":"Female","c":"Stress","v":2.74,"j":0.264},{"Sex":"Female","c":"Stress","v":2.87,"j":0.241},{"Sex":"Female","c":"Stress","v":2.7,"j":0.232},{"Sex":"Female","c":"Stress","v":2.57,"j":0.145},{"Sex":"Female","c":"Stress","v":2.23,"j":0.244},{"Sex":"Female","c":"Stress","v":2.03,"j":0.236},{"Sex":"Female","c":"Stress","v":2.13,"j":0.168},{"Sex":"Female","c":"Stress","v":1.96,"j":0.18},{"Sex":"Female","c":"Stress","v":1.84,"j":0.198},{"Sex":"Female","c":"Stress","v":1.79,"j":0.138},{"Sex":"Female","c":"Stress","v":2.03,"j":0.209},{"Sex":"Female","c":"Stress","v":1.9,"j":0.251},{"Sex":"Female","c":"Stress","v":1.7,"j":0.092},{"Sex":"Female","c":"Stress","v":1.56,"j":0.112},{"Sex":"Female","c":"Stress","v":1.73,"j":0.145},{"Sex":"Female","c":"Stress","v":1.6,"j":0.176},{"Sex":"Female","c":"Stress","v":1.65,"j":0.198},{"Sex":"Female","c":"Stress","v":1.69,"j":0.214},{"Sex":"Female","c":"Stress","v":1.56,"j":0.221},{"Sex":"Female","c":"Stress","v":1.65,"j":0.251},{"Sex":"Female","c":"Stress","v":1.79,"j":0.282},{"Sex":"Female","c":"Stress","v":1.44,"j":0.118},{"Sex":"Female","c":"Stress","v":1.35,"j":0.153},{"Sex":"Female","c":"Stress","v":1.39,"j":0.183},{"Sex":"Female","c":"Stress","v":1.37,"j":0.214},{"Sex":"Female","c":"Stress","v":1.44,"j":0.244},{"Sex":"Female","c":"Stress","v":1.31,"j":0.264},{"Sex":"Female","c":"Stress","v":1.27,"j":0.165},{"Sex":"Female","c":"Stress","v":1.27,"j":0.206},{"Sex":"Female","c":"Stress","v":1.22,"j":0.077}
 ],
 "pts4": [
  {"Sex":"Male","c":"Control","v":0.874,"j":-0.205},{"Sex":"Male","c":"Control","v":0.836,"j":-0.269},{"Sex":"Male","c":"Control","v":0.817,"j":-0.228},{"Sex":"Male","c":"Control","v":0.836,"j":-0.113},{"Sex":"Male","c":"Control","v":0.823,"j":-0.09},{"Sex":"Male","c":"Control","v":0.798,"j":-0.118},{"Sex":"Male","c":"Control","v":0.785,"j":-0.22},{"Sex":"Male","c":"Control","v":0.785,"j":-0.189},{"Sex":"Male","c":"Control","v":0.757,"j":-0.182},{"Sex":"Male","c":"Control","v":0.763,"j":-0.151},{"Sex":"Male","c":"Control","v":0.734,"j":-0.22},{"Sex":"Male","c":"Control","v":0.727,"j":-0.166},{"Sex":"Male","c":"Control","v":0.715,"j":-0.151},{"Sex":"Male","c":"Control","v":0.721,"j":-0.274},{"Sex":"Male","c":"Control","v":0.702,"j":-0.274},{"Sex":"Male","c":"Control","v":0.702,"j":-0.09},{"Sex":"Male","c":"Control","v":0.689,"j":-0.09},{"Sex":"Male","c":"Control","v":0.702,"j":-0.22},{"Sex":"Male","c":"Control","v":0.689,"j":-0.182},{"Sex":"Male","c":"Control","v":0.683,"j":-0.144},{"Sex":"Male","c":"Control","v":0.676,"j":-0.121},{"Sex":"Male","c":"Control","v":0.67,"j":-0.197},{"Sex":"Male","c":"Control","v":0.622,"j":-0.274},{"Sex":"Male","c":"Control","v":0.619,"j":-0.251},{"Sex":"Male","c":"Control","v":0.609,"j":-0.228},{"Sex":"Male","c":"Control","v":0.6,"j":-0.243},{"Sex":"Male","c":"Control","v":0.638,"j":-0.09},{"Sex":"Male","c":"Control","v":0.613,"j":-0.128},{"Sex":"Male","c":"Control","v":0.594,"j":-0.144},{"Sex":"Male","c":"Control","v":0.581,"j":-0.136},{"Sex":"Male","c":"Control","v":0.574,"j":-0.159},{"Sex":"Male","c":"Control","v":0.581,"j":-0.121},{"Sex":"Male","c":"Control","v":0.536,"j":-0.251},{"Sex":"Male","c":"Control","v":0.536,"j":-0.228},{"Sex":"Male","c":"Control","v":0.54,"j":-0.205},{"Sex":"Male","c":"Control","v":0.53,"j":-0.121},{"Sex":"Male","c":"Control","v":0.517,"j":-0.113},{"Sex":"Male","c":"Control","v":0.524,"j":-0.106},{"Sex":"Male","c":"Control","v":0.498,"j":-0.166},{"Sex":"Male","c":"Control","v":0.498,"j":-0.205},{"Sex":"Male","c":"Control","v":0.482,"j":-0.235},{"Sex":"Male","c":"Control","v":0.473,"j":-0.216},{"Sex":"Male","c":"Control","v":0.477,"j":-0.086},{"Sex":"Male","c":"Control","v":0.456,"j":-0.271},{"Sex":"Male","c":"Control","v":0.441,"j":-0.263},{"Sex":"Male","c":"Control","v":0.454,"j":-0.116},{"Sex":"Male","c":"Control","v":0.405,"j":-0.148},{"Sex":"Male","c":"Control","v":0.396,"j":-0.095},{"Sex":"Male","c":"Control","v":0.241,"j":-0.133},
  {"Sex":"Male","c":"Stress","v":0.861,"j":0.09},{"Sex":"Male","c":"Stress","v":0.842,"j":0.116},{"Sex":"Male","c":"Stress","v":0.762,"j":0.124},{"Sex":"Male","c":"Stress","v":0.762,"j":0.147},{"Sex":"Male","c":"Stress","v":0.765,"j":0.17},{"Sex":"Male","c":"Stress","v":0.762,"j":0.239},{"Sex":"Male","c":"Stress","v":0.736,"j":0.274},{"Sex":"Male","c":"Stress","v":0.715,"j":0.268},{"Sex":"Male","c":"Stress","v":0.721,"j":0.132},{"Sex":"Male","c":"Stress","v":0.715,"j":0.155},{"Sex":"Male","c":"Stress","v":0.676,"j":0.093},{"Sex":"Male","c":"Stress","v":0.68,"j":0.116},{"Sex":"Male","c":"Stress","v":0.67,"j":0.139},{"Sex":"Male","c":"Stress","v":0.683,"j":0.162},{"Sex":"Male","c":"Stress","v":0.676,"j":0.178},{"Sex":"Male","c":"Stress","v":0.664,"j":0.188},{"Sex":"Male","c":"Stress","v":0.647,"j":0.213},{"Sex":"Male","c":"Stress","v":0.629,"j":0.234},{"Sex":"Male","c":"Stress","v":0.653,"j":0.272},{"Sex":"Male","c":"Stress","v":0.657,"j":0.101},{"Sex":"Male","c":"Stress","v":0.626,"j":0.132},{"Sex":"Male","c":"Stress","v":0.651,"j":0.147},{"Sex":"Male","c":"Stress","v":0.619,"j":0.162},{"Sex":"Male","c":"Stress","v":0.619,"j":0.208},{"Sex":"Male","c":"Stress","v":0.606,"j":0.223},{"Sex":"Male","c":"Stress","v":0.594,"j":0.231},{"Sex":"Male","c":"Stress","v":0.562,"j":0.093},{"Sex":"Male","c":"Stress","v":0.536,"j":0.116},{"Sex":"Male","c":"Stress","v":0.553,"j":0.154},{"Sex":"Male","c":"Stress","v":0.553,"j":0.267},{"Sex":"Male","c":"Stress","v":0.568,"j":0.257},{"Sex":"Male","c":"Stress","v":0.494,"j":0.139},{"Sex":"Male","c":"Stress","v":0.511,"j":0.197},{"Sex":"Male","c":"Stress","v":0.482,"j":0.212},{"Sex":"Male","c":"Stress","v":0.473,"j":0.134},{"Sex":"Male","c":"Stress","v":0.46,"j":0.154},{"Sex":"Male","c":"Stress","v":0.443,"j":0.145},{"Sex":"Male","c":"Stress","v":0.46,"j":0.231},{"Sex":"Male","c":"Stress","v":0.441,"j":0.245},{"Sex":"Male","c":"Stress","v":0.466,"j":0.303},{"Sex":"Male","c":"Stress","v":0.418,"j":0.179},{"Sex":"Male","c":"Stress","v":0.425,"j":0.24},{"Sex":"Male","c":"Stress","v":0.413,"j":0.263},{"Sex":"Male","c":"Stress","v":0.4,"j":0.298},{"Sex":"Male","c":"Stress","v":0.396,"j":0.132},
  {"Sex":"Female","c":"Control","v":0.87,"j":-0.199},{"Sex":"Female","c":"Control","v":0.864,"j":-0.13},{"Sex":"Female","c":"Control","v":0.874,"j":-0.086},{"Sex":"Female","c":"Control","v":0.827,"j":-0.265},{"Sex":"Female","c":"Control","v":0.82,"j":-0.18},{"Sex":"Female","c":"Control","v":0.804,"j":-0.157},{"Sex":"Female","c":"Control","v":0.785,"j":-0.242},{"Sex":"Female","c":"Control","v":0.766,"j":-0.17},{"Sex":"Female","c":"Control","v":0.766,"j":-0.086},{"Sex":"Female","c":"Control","v":0.759,"j":-0.257},{"Sex":"Female","c":"Control","v":0.73,"j":-0.267},{"Sex":"Female","c":"Control","v":0.721,"j":-0.234},{"Sex":"Female","c":"Control","v":0.708,"j":-0.211},{"Sex":"Female","c":"Control","v":0.721,"j":-0.165},{"Sex":"Female","c":"Control","v":0.711,"j":-0.134},{"Sex":"Female","c":"Control","v":0.715,"j":-0.122},{"Sex":"Female","c":"Control","v":0.708,"j":-0.26},{"Sex":"Female","c":"Control","v":0.689,"j":-0.265},{"Sex":"Female","c":"Control","v":0.657,"j":-0.267},{"Sex":"Female","c":"Control","v":0.651,"j":-0.257},{"Sex":"Female","c":"Control","v":0.67,"j":-0.086},{"Sex":"Female","c":"Control","v":0.655,"j":-0.173},{"Sex":"Female","c":"Control","v":0.651,"j":-0.134},{"Sex":"Female","c":"Control","v":0.626,"j":-0.162},{"Sex":"Female","c":"Control","v":0.619,"j":-0.138},{"Sex":"Female","c":"Control","v":0.619,"j":-0.226},{"Sex":"Female","c":"Control","v":0.587,"j":-0.089},{"Sex":"Female","c":"Control","v":0.594,"j":-0.265},{"Sex":"Female","c":"Control","v":0.574,"j":-0.234},{"Sex":"Female","c":"Control","v":0.581,"j":-0.196},{"Sex":"Female","c":"Control","v":0.566,"j":-0.157},{"Sex":"Female","c":"Control","v":0.549,"j":-0.119},{"Sex":"Female","c":"Control","v":0.553,"j":-0.086},{"Sex":"Female","c":"Control","v":0.527,"j":-0.081},{"Sex":"Female","c":"Control","v":0.524,"j":-0.131},{"Sex":"Female","c":"Control","v":0.536,"j":-0.161},{"Sex":"Female","c":"Control","v":0.498,"j":-0.28},{"Sex":"Female","c":"Control","v":0.485,"j":-0.257},{"Sex":"Female","c":"Control","v":0.489,"j":-0.219},{"Sex":"Female","c":"Control","v":0.485,"j":-0.193},{"Sex":"Female","c":"Control","v":0.479,"j":-0.157},{"Sex":"Female","c":"Control","v":0.46,"j":-0.272},{"Sex":"Female","c":"Control","v":0.447,"j":-0.257},{"Sex":"Female","c":"Control","v":0.441,"j":-0.214},{"Sex":"Female","c":"Control","v":0.447,"j":-0.188},{"Sex":"Female","c":"Control","v":0.441,"j":-0.18},{"Sex":"Female","c":"Control","v":0.454,"j":-0.142},{"Sex":"Female","c":"Control","v":0.447,"j":-0.119},{"Sex":"Female","c":"Control","v":0.466,"j":-0.092},{"Sex":"Female","c":"Control","v":0.441,"j":-0.086},{"Sex":"Female","c":"Control","v":0.415,"j":-0.142},{"Sex":"Female","c":"Control","v":0.422,"j":-0.127},{"Sex":"Female","c":"Control","v":0.422,"j":-0.081},{"Sex":"Female","c":"Control","v":0.422,"j":-0.241},{"Sex":"Female","c":"Control","v":0.413,"j":-0.219},{"Sex":"Female","c":"Control","v":0.377,"j":-0.203},{"Sex":"Female","c":"Control","v":0.371,"j":-0.211},{"Sex":"Female","c":"Control","v":0.345,"j":-0.261},{"Sex":"Female","c":"Control","v":0.329,"j":-0.28},{"Sex":"Female","c":"Control","v":0.336,"j":-0.15},{"Sex":"Female","c":"Control","v":0.303,"j":-0.161},{"Sex":"Female","c":"Control","v":0.273,"j":-0.219},{"Sex":"Female","c":"Control","v":0.183,"j":-0.089},
  {"Sex":"Female","c":"Stress","v":0.855,"j":0.237},{"Sex":"Female","c":"Stress","v":0.845,"j":0.29},{"Sex":"Female","c":"Stress","v":0.833,"j":0.174},{"Sex":"Female","c":"Stress","v":0.791,"j":0.117},{"Sex":"Female","c":"Stress","v":0.778,"j":0.156},{"Sex":"Female","c":"Stress","v":0.768,"j":0.258},{"Sex":"Female","c":"Stress","v":0.744,"j":0.164},{"Sex":"Female","c":"Stress","v":0.749,"j":0.171},{"Sex":"Female","c":"Stress","v":0.715,"j":0.194},{"Sex":"Female","c":"Stress","v":0.717,"j":0.233},{"Sex":"Female","c":"Stress","v":0.657,"j":0.271},{"Sex":"Female","c":"Stress","v":0.606,"j":0.294},{"Sex":"Female","c":"Stress","v":0.689,"j":0.233},{"Sex":"Female","c":"Stress","v":0.696,"j":0.133},{"Sex":"Female","c":"Stress","v":0.676,"j":0.117},{"Sex":"Female","c":"Stress","v":0.689,"j":0.156},{"Sex":"Female","c":"Stress","v":0.67,"j":0.179},{"Sex":"Female","c":"Stress","v":0.657,"j":0.202},{"Sex":"Female","c":"Stress","v":0.651,"j":0.217},{"Sex":"Female","c":"Stress","v":0.626,"j":0.233},{"Sex":"Female","c":"Stress","v":0.632,"j":0.255},{"Sex":"Female","c":"Stress","v":0.622,"j":0.263},{"Sex":"Female","c":"Stress","v":0.6,"j":0.286},{"Sex":"Female","c":"Stress","v":0.657,"j":0.113},{"Sex":"Female","c":"Stress","v":0.645,"j":0.133},{"Sex":"Female","c":"Stress","v":0.638,"j":0.156},{"Sex":"Female","c":"Stress","v":0.626,"j":0.179},{"Sex":"Female","c":"Stress","v":0.6,"j":0.194},{"Sex":"Female","c":"Stress","v":0.594,"j":0.21},{"Sex":"Female","c":"Stress","v":0.574,"j":0.102},{"Sex":"Female","c":"Stress","v":0.549,"j":0.125},{"Sex":"Female","c":"Stress","v":0.555,"j":0.156},{"Sex":"Female","c":"Stress","v":0.555,"j":0.202},{"Sex":"Female","c":"Stress","v":0.543,"j":0.24},{"Sex":"Female","c":"Stress","v":0.562,"j":0.263},{"Sex":"Female","c":"Stress","v":0.53,"j":0.278},{"Sex":"Female","c":"Stress","v":0.485,"j":0.118},{"Sex":"Female","c":"Stress","v":0.473,"j":0.138},{"Sex":"Female","c":"Stress","v":0.466,"j":0.164},{"Sex":"Female","c":"Stress","v":0.454,"j":0.187},{"Sex":"Female","c":"Stress","v":0.466,"j":0.21},{"Sex":"Female","c":"Stress","v":0.441,"j":0.225},{"Sex":"Female","c":"Stress","v":0.485,"j":0.248},{"Sex":"Female","c":"Stress","v":0.46,"j":0.258},{"Sex":"Female","c":"Stress","v":0.454,"j":0.286},{"Sex":"Female","c":"Stress","v":0.415,"j":0.102},{"Sex":"Female","c":"Stress","v":0.447,"j":0.171},{"Sex":"Female","c":"Stress","v":0.415,"j":0.21},{"Sex":"Female","c":"Stress","v":0.431,"j":0.217},{"Sex":"Female","c":"Stress","v":0.371,"j":0.179},{"Sex":"Female","c":"Stress","v":0.371,"j":0.217},{"Sex":"Female","c":"Stress","v":0.297,"j":0.151},{"Sex":"Female","c":"Stress","v":0.269,"j":0.183},{"Sex":"Female","c":"Stress","v":0.294,"j":0.244},{"Sex":"Female","c":"Stress","v":0.211,"j":0.115},{"Sex":"Female","c":"Stress","v":0.307,"j":0.248}
 ]
},
"bounds": "flush",
"spacing": 698,
"resolve": {"scale": {"x": "independent", "y": "independent", "xOffset": "independent", "color": "independent"}, "legend": {"color": "independent"}},
"hconcat": [
 {"vconcat": [
  {"width": 484, "height": 281,
   "title": {"text": "Overall working memory", "offset": 4},
   "resolve": {"scale": {"xOffset": "independent"}},
   "layer": [
    {"data": {"name": "bars1"}, "mark": {"type": "bar", "stroke": "#1a1a1a", "strokeWidth": 0.8, "clip": true},
     "encoding": {
      "x": {"field": "Sex", "type": "nominal", "sort": ["Male", "Female"], "scale": {"paddingInner": 0.1, "paddingOuter": 0.15}, "axis": {"title": "Sex", "labelAngle": 0}},
      "xOffset": {"field": "Condition", "type": "nominal", "sort": ["Control", "Stress"], "scale": {"paddingInner": 0, "paddingOuter": 0}},
      "y": {"field": "m", "type": "quantitative", "scale": {"domain": [0.608, 4.05], "nice": false, "zero": false}, "axis": {"title": "Overall working memory ( d')", "values": [1, 2, 3, 4], "format": "d"}},
      "color": {"field": "Condition", "type": "nominal", "scale": {"domain": ["Control", "Stress"], "range": ["#0099CC", "#CC2229"]}, "legend": {"title": ["Writing", "Condition"], "orient": "none", "legendX": 511, "legendY": 94}}
     }},
    {"data": {"name": "pts1"}, "mark": {"type": "point", "filled": true, "color": "#000", "opacity": 0.32, "size": 130, "strokeWidth": 0},
     "encoding": {"x": {"field": "Sex", "type": "nominal", "sort": ["Male", "Female"]}, "xOffset": {"field": "j", "type": "quantitative", "scale": {"domain": [-0.45, 0.45]}}, "y": {"field": "v", "type": "quantitative"}}},
    {"data": {"name": "bars1"}, "mark": {"type": "rule", "color": "#000", "strokeWidth": 1.2},
     "encoding": {"x": {"field": "Sex", "type": "nominal", "sort": ["Male", "Female"]}, "xOffset": {"field": "Condition", "type": "nominal", "sort": ["Control", "Stress"]}, "y": {"field": "lo", "type": "quantitative"}, "y2": {"field": "hi"}}},
    {"data": {"name": "bars1"}, "mark": {"type": "tick", "color": "#000", "thickness": 1.3, "size": 22, "orient": "horizontal"},
     "encoding": {"x": {"field": "Sex", "type": "nominal", "sort": ["Male", "Female"]}, "xOffset": {"field": "Condition", "type": "nominal", "sort": ["Control", "Stress"]}, "y": {"field": "lo", "type": "quantitative"}}},
    {"data": {"name": "bars1"}, "mark": {"type": "tick", "color": "#000", "thickness": 1.3, "size": 22, "orient": "horizontal"},
     "encoding": {"x": {"field": "Sex", "type": "nominal", "sort": ["Male", "Female"]}, "xOffset": {"field": "Condition", "type": "nominal", "sort": ["Control", "Stress"]}, "y": {"field": "hi", "type": "quantitative"}}},
    {"data": {"name": "bars1"}, "mark": {"type": "rule", "color": "#333", "strokeWidth": 1},
     "encoding": {"x": {"field": "Sex", "type": "nominal", "sort": ["Male", "Female"]}, "xOffset": {"field": "Condition", "type": "nominal", "sort": ["Control", "Stress"]}, "y": {"datum": 3.04}, "y2": {"datum": 3.12}}},
    {"data": {"name": "ann1"}, "mark": {"type": "tick", "color": "#333", "thickness": 1, "size": 99, "orient": "horizontal"},
     "encoding": {"x": {"field": "Sex", "type": "nominal", "sort": ["Male", "Female"]}, "y": {"datum": 3.12}}},
    {"data": {"name": "ann1"}, "mark": {"type": "text", "text": "Condition", "fontSize": 20, "color": "#000", "baseline": "middle"},
     "encoding": {"x": {"field": "Sex", "type": "nominal", "sort": ["Male", "Female"]}, "y": {"datum": 3.88}}},
    {"data": {"name": "ann1"}, "mark": {"type": "text", "fontSize": 20, "color": "#000", "baseline": "middle"},
     "encoding": {"x": {"field": "Sex", "type": "nominal", "sort": ["Male", "Female"]}, "y": {"datum": 3.59}, "text": {"field": "t2"}}},
    {"data": {"name": "ann1"}, "mark": {"type": "text", "text": "p", "fontStyle": "italic", "fontSize": 20, "color": "#000", "baseline": "middle", "dx": -31},
     "encoding": {"x": {"field": "Sex", "type": "nominal", "sort": ["Male", "Female"]}, "y": {"datum": 3.3}}},
    {"data": {"name": "ann1"}, "mark": {"type": "text", "fontSize": 20, "color": "#000", "baseline": "middle", "align": "left", "dx": -9},
     "encoding": {"x": {"field": "Sex", "type": "nominal", "sort": ["Male", "Female"]}, "y": {"datum": 3.3}, "text": {"field": "pv"}}}
   ]},
  {"width": 484, "height": 279,
   "title": {"text": "Capacity", "offset": 4},
   "resolve": {"scale": {"xOffset": "independent"}},
   "layer": [
    {"data": {"name": "bars3"}, "mark": {"type": "bar", "stroke": "#1a1a1a", "strokeWidth": 0.8, "clip": true},
     "encoding": {
      "x": {"field": "Sex", "type": "nominal", "sort": ["Male", "Female"], "scale": {"paddingInner": 0.1, "paddingOuter": 0.15}, "axis": {"title": "Sex", "labelAngle": 0, "labelPadding": 2, "titlePadding": 1}},
      "xOffset": {"field": "Condition", "type": "nominal", "sort": ["Control", "Stress"], "scale": {"paddingInner": 0, "paddingOuter": 0}},
      "y": {"field": "m", "type": "quantitative", "scale": {"domain": [1.19, 8.253], "nice": false, "zero": false}, "axis": {"title": "Capacity ( k )", "values": [2, 4, 6, 8], "format": "d"}},
      "color": {"field": "Condition", "type": "nominal", "scale": {"domain": ["Control", "Stress"], "range": ["#0099CC", "#CC2229"]}, "legend": {"title": ["Writing", "Condition"], "orient": "none", "legendX": 511, "legendY": 91}}
     }},
    {"data": {"name": "pts3"}, "mark": {"type": "point", "filled": true, "color": "#000", "opacity": 0.32, "size": 130, "strokeWidth": 0},
     "encoding": {"x": {"field": "Sex", "type": "nominal", "sort": ["Male", "Female"]}, "xOffset": {"field": "j", "type": "quantitative", "scale": {"domain": [-0.45, 0.45]}}, "y": {"field": "v", "type": "quantitative"}}},
    {"data": {"name": "bars3"}, "mark": {"type": "rule", "color": "#000", "strokeWidth": 1.2},
     "encoding": {"x": {"field": "Sex", "type": "nominal", "sort": ["Male", "Female"]}, "xOffset": {"field": "Condition", "type": "nominal", "sort": ["Control", "Stress"]}, "y": {"field": "lo", "type": "quantitative"}, "y2": {"field": "hi"}}},
    {"data": {"name": "bars3"}, "mark": {"type": "tick", "color": "#000", "thickness": 1.3, "size": 22, "orient": "horizontal"},
     "encoding": {"x": {"field": "Sex", "type": "nominal", "sort": ["Male", "Female"]}, "xOffset": {"field": "Condition", "type": "nominal", "sort": ["Control", "Stress"]}, "y": {"field": "lo", "type": "quantitative"}}},
    {"data": {"name": "bars3"}, "mark": {"type": "tick", "color": "#000", "thickness": 1.3, "size": 22, "orient": "horizontal"},
     "encoding": {"x": {"field": "Sex", "type": "nominal", "sort": ["Male", "Female"]}, "xOffset": {"field": "Condition", "type": "nominal", "sort": ["Control", "Stress"]}, "y": {"field": "hi", "type": "quantitative"}}}
   ]}
 ], "spacing": 104, "bounds": "flush",
 "resolve": {"scale": {"x": "independent", "y": "independent", "xOffset": "independent", "color": "independent"}, "legend": {"color": "independent"}}},
 {"vconcat": [
  {"width": 475, "height": 281,
   "title": {"text": "Attention to task", "offset": 4},
   "resolve": {"scale": {"xOffset": "independent"}},
   "layer": [
    {"data": {"name": "bars2"}, "mark": {"type": "bar", "stroke": "#1a1a1a", "strokeWidth": 0.8, "clip": true},
     "encoding": {
      "x": {"field": "Sex", "type": "nominal", "sort": ["Male", "Female"], "scale": {"paddingInner": 0.1, "paddingOuter": 0.15}, "axis": {"title": "Sex", "labelAngle": 0}},
      "xOffset": {"field": "Condition", "type": "nominal", "sort": ["Control", "Stress"], "scale": {"paddingInner": 0, "paddingOuter": 0}},
      "y": {"field": "m", "type": "quantitative", "scale": {"domain": [0.6743, 1.2296], "nice": false, "zero": false}, "axis": {"title": "Attention to task ( a )", "values": [0.7, 0.8, 0.9, 1.0, 1.1, 1.2], "format": ".1f"}},
      "color": {"field": "Condition", "type": "nominal", "scale": {"domain": ["Control", "Stress"], "range": ["#0099CC", "#CC2229"]}, "legend": {"title": ["Writing", "Condition"], "orient": "none", "legendX": 499, "legendY": 94}}
     }},
    {"data": {"name": "pts2"}, "mark": {"type": "point", "filled": true, "color": "#000", "opacity": 0.32, "size": 130, "strokeWidth": 0},
     "encoding": {"x": {"field": "Sex", "type": "nominal", "sort": ["Male", "Female"]}, "xOffset": {"field": "j", "type": "quantitative", "scale": {"domain": [-0.45, 0.45]}}, "y": {"field": "v", "type": "quantitative"}}},
    {"data": {"name": "bars2"}, "mark": {"type": "rule", "color": "#000", "strokeWidth": 1.2},
     "encoding": {"x": {"field": "Sex", "type": "nominal", "sort": ["Male", "Female"]}, "xOffset": {"field": "Condition", "type": "nominal", "sort": ["Control", "Stress"]}, "y": {"field": "lo", "type": "quantitative"}, "y2": {"field": "hi"}}},
    {"data": {"name": "bars2"}, "mark": {"type": "tick", "color": "#000", "thickness": 1.3, "size": 22, "orient": "horizontal"},
     "encoding": {"x": {"field": "Sex", "type": "nominal", "sort": ["Male", "Female"]}, "xOffset": {"field": "Condition", "type": "nominal", "sort": ["Control", "Stress"]}, "y": {"field": "lo", "type": "quantitative"}}},
    {"data": {"name": "bars2"}, "mark": {"type": "tick", "color": "#000", "thickness": 1.3, "size": 22, "orient": "horizontal"},
     "encoding": {"x": {"field": "Sex", "type": "nominal", "sort": ["Male", "Female"]}, "xOffset": {"field": "Condition", "type": "nominal", "sort": ["Control", "Stress"]}, "y": {"field": "hi", "type": "quantitative"}}},
    {"data": {"name": "bars2"}, "mark": {"type": "rule", "color": "#333", "strokeWidth": 1},
     "encoding": {"x": {"field": "Sex", "type": "nominal", "sort": ["Male", "Female"]}, "xOffset": {"field": "Condition", "type": "nominal", "sort": ["Control", "Stress"]}, "y": {"datum": 1.057}, "y2": {"datum": 1.073}}},
    {"data": {"name": "ann2"}, "mark": {"type": "tick", "color": "#333", "thickness": 1, "size": 97, "orient": "horizontal"},
     "encoding": {"x": {"field": "Sex", "type": "nominal", "sort": ["Male", "Female"]}, "y": {"datum": 1.073}}},
    {"data": {"name": "ann2"}, "mark": {"type": "text", "text": "Condition", "fontSize": 20, "color": "#000", "baseline": "middle"},
     "encoding": {"x": {"field": "Sex", "type": "nominal", "sort": ["Male", "Female"]}, "y": {"datum": 1.201}}},
    {"data": {"name": "ann2"}, "mark": {"type": "text", "fontSize": 20, "color": "#000", "baseline": "middle"},
     "encoding": {"x": {"field": "Sex", "type": "nominal", "sort": ["Male", "Female"]}, "y": {"datum": 1.153}, "text": {"field": "t2"}}},
    {"data": {"name": "ann2"}, "mark": {"type": "text", "text": "p", "fontStyle": "italic", "fontSize": 20, "color": "#000", "baseline": "middle", "dx": -31},
     "encoding": {"x": {"field": "Sex", "type": "nominal", "sort": ["Male", "Female"]}, "y": {"datum": 1.105}}},
    {"data": {"name": "ann2"}, "mark": {"type": "text", "fontSize": 20, "color": "#000", "baseline": "middle", "align": "left", "dx": -9},
     "encoding": {"x": {"field": "Sex", "type": "nominal", "sort": ["Male", "Female"]}, "y": {"datum": 1.105}, "text": {"field": "pv"}}}
   ]},
  {"width": 475, "height": 256,
   "title": {"text": ["Guessing bias by", "writing condition and sex"], "offset": 4, "lineHeight": 29},
   "resolve": {"scale": {"xOffset": "independent"}},
   "layer": [
    {"data": {"name": "bars4"}, "mark": {"type": "bar", "stroke": "#1a1a1a", "strokeWidth": 0.8, "clip": true},
     "encoding": {
      "x": {"field": "Sex", "type": "nominal", "sort": ["Male", "Female"], "scale": {"paddingInner": 0.1, "paddingOuter": 0.15}, "axis": {"title": "Sex", "labelAngle": 0, "labelPadding": 1, "titlePadding": 1}},
      "xOffset": {"field": "Condition", "type": "nominal", "sort": ["Control", "Stress"], "scale": {"paddingInner": 0, "paddingOuter": 0}},
      "y": {"field": "m", "type": "quantitative", "scale": {"domain": [0.157, 1.135], "nice": false, "zero": false}, "axis": {"title": "Guessing bias ( g )", "values": [0.3, 0.6, 0.9], "format": ".1f"}},
      "color": {"field": "Condition", "type": "nominal", "scale": {"domain": ["Control", "Stress"], "range": ["#0099CC", "#CC2229"]}, "legend": {"title": ["Writing", "Condition"], "orient": "none", "legendX": 503, "legendY": 82}}
     }},
    {"data": {"name": "pts4"}, "mark": {"type": "point", "filled": true, "color": "#000", "opacity": 0.32, "size": 130, "strokeWidth": 0},
     "encoding": {"x": {"field": "Sex", "type": "nominal", "sort": ["Male", "Female"]}, "xOffset": {"field": "j", "type": "quantitative", "scale": {"domain": [-0.45, 0.45]}}, "y": {"field": "v", "type": "quantitative"}}},
    {"data": {"name": "bars4"}, "mark": {"type": "rule", "color": "#000", "strokeWidth": 1.2},
     "encoding": {"x": {"field": "Sex", "type": "nominal", "sort": ["Male", "Female"]}, "xOffset": {"field": "Condition", "type": "nominal", "sort": ["Control", "Stress"]}, "y": {"field": "lo", "type": "quantitative"}, "y2": {"field": "hi"}}},
    {"data": {"name": "bars4"}, "mark": {"type": "tick", "color": "#000", "thickness": 1.3, "size": 22, "orient": "horizontal"},
     "encoding": {"x": {"field": "Sex", "type": "nominal", "sort": ["Male", "Female"]}, "xOffset": {"field": "Condition", "type": "nominal", "sort": ["Control", "Stress"]}, "y": {"field": "lo", "type": "quantitative"}}},
    {"data": {"name": "bars4"}, "mark": {"type": "tick", "color": "#000", "thickness": 1.3, "size": 22, "orient": "horizontal"},
     "encoding": {"x": {"field": "Sex", "type": "nominal", "sort": ["Male", "Female"]}, "xOffset": {"field": "Condition", "type": "nominal", "sort": ["Control", "Stress"]}, "y": {"field": "hi", "type": "quantitative"}}}
   ]}
 ], "spacing": 129, "bounds": "flush",
 "resolve": {"scale": {"x": "independent", "y": "independent", "xOffset": "independent", "color": "independent"}, "legend": {"color": "independent"}}}
]
}
